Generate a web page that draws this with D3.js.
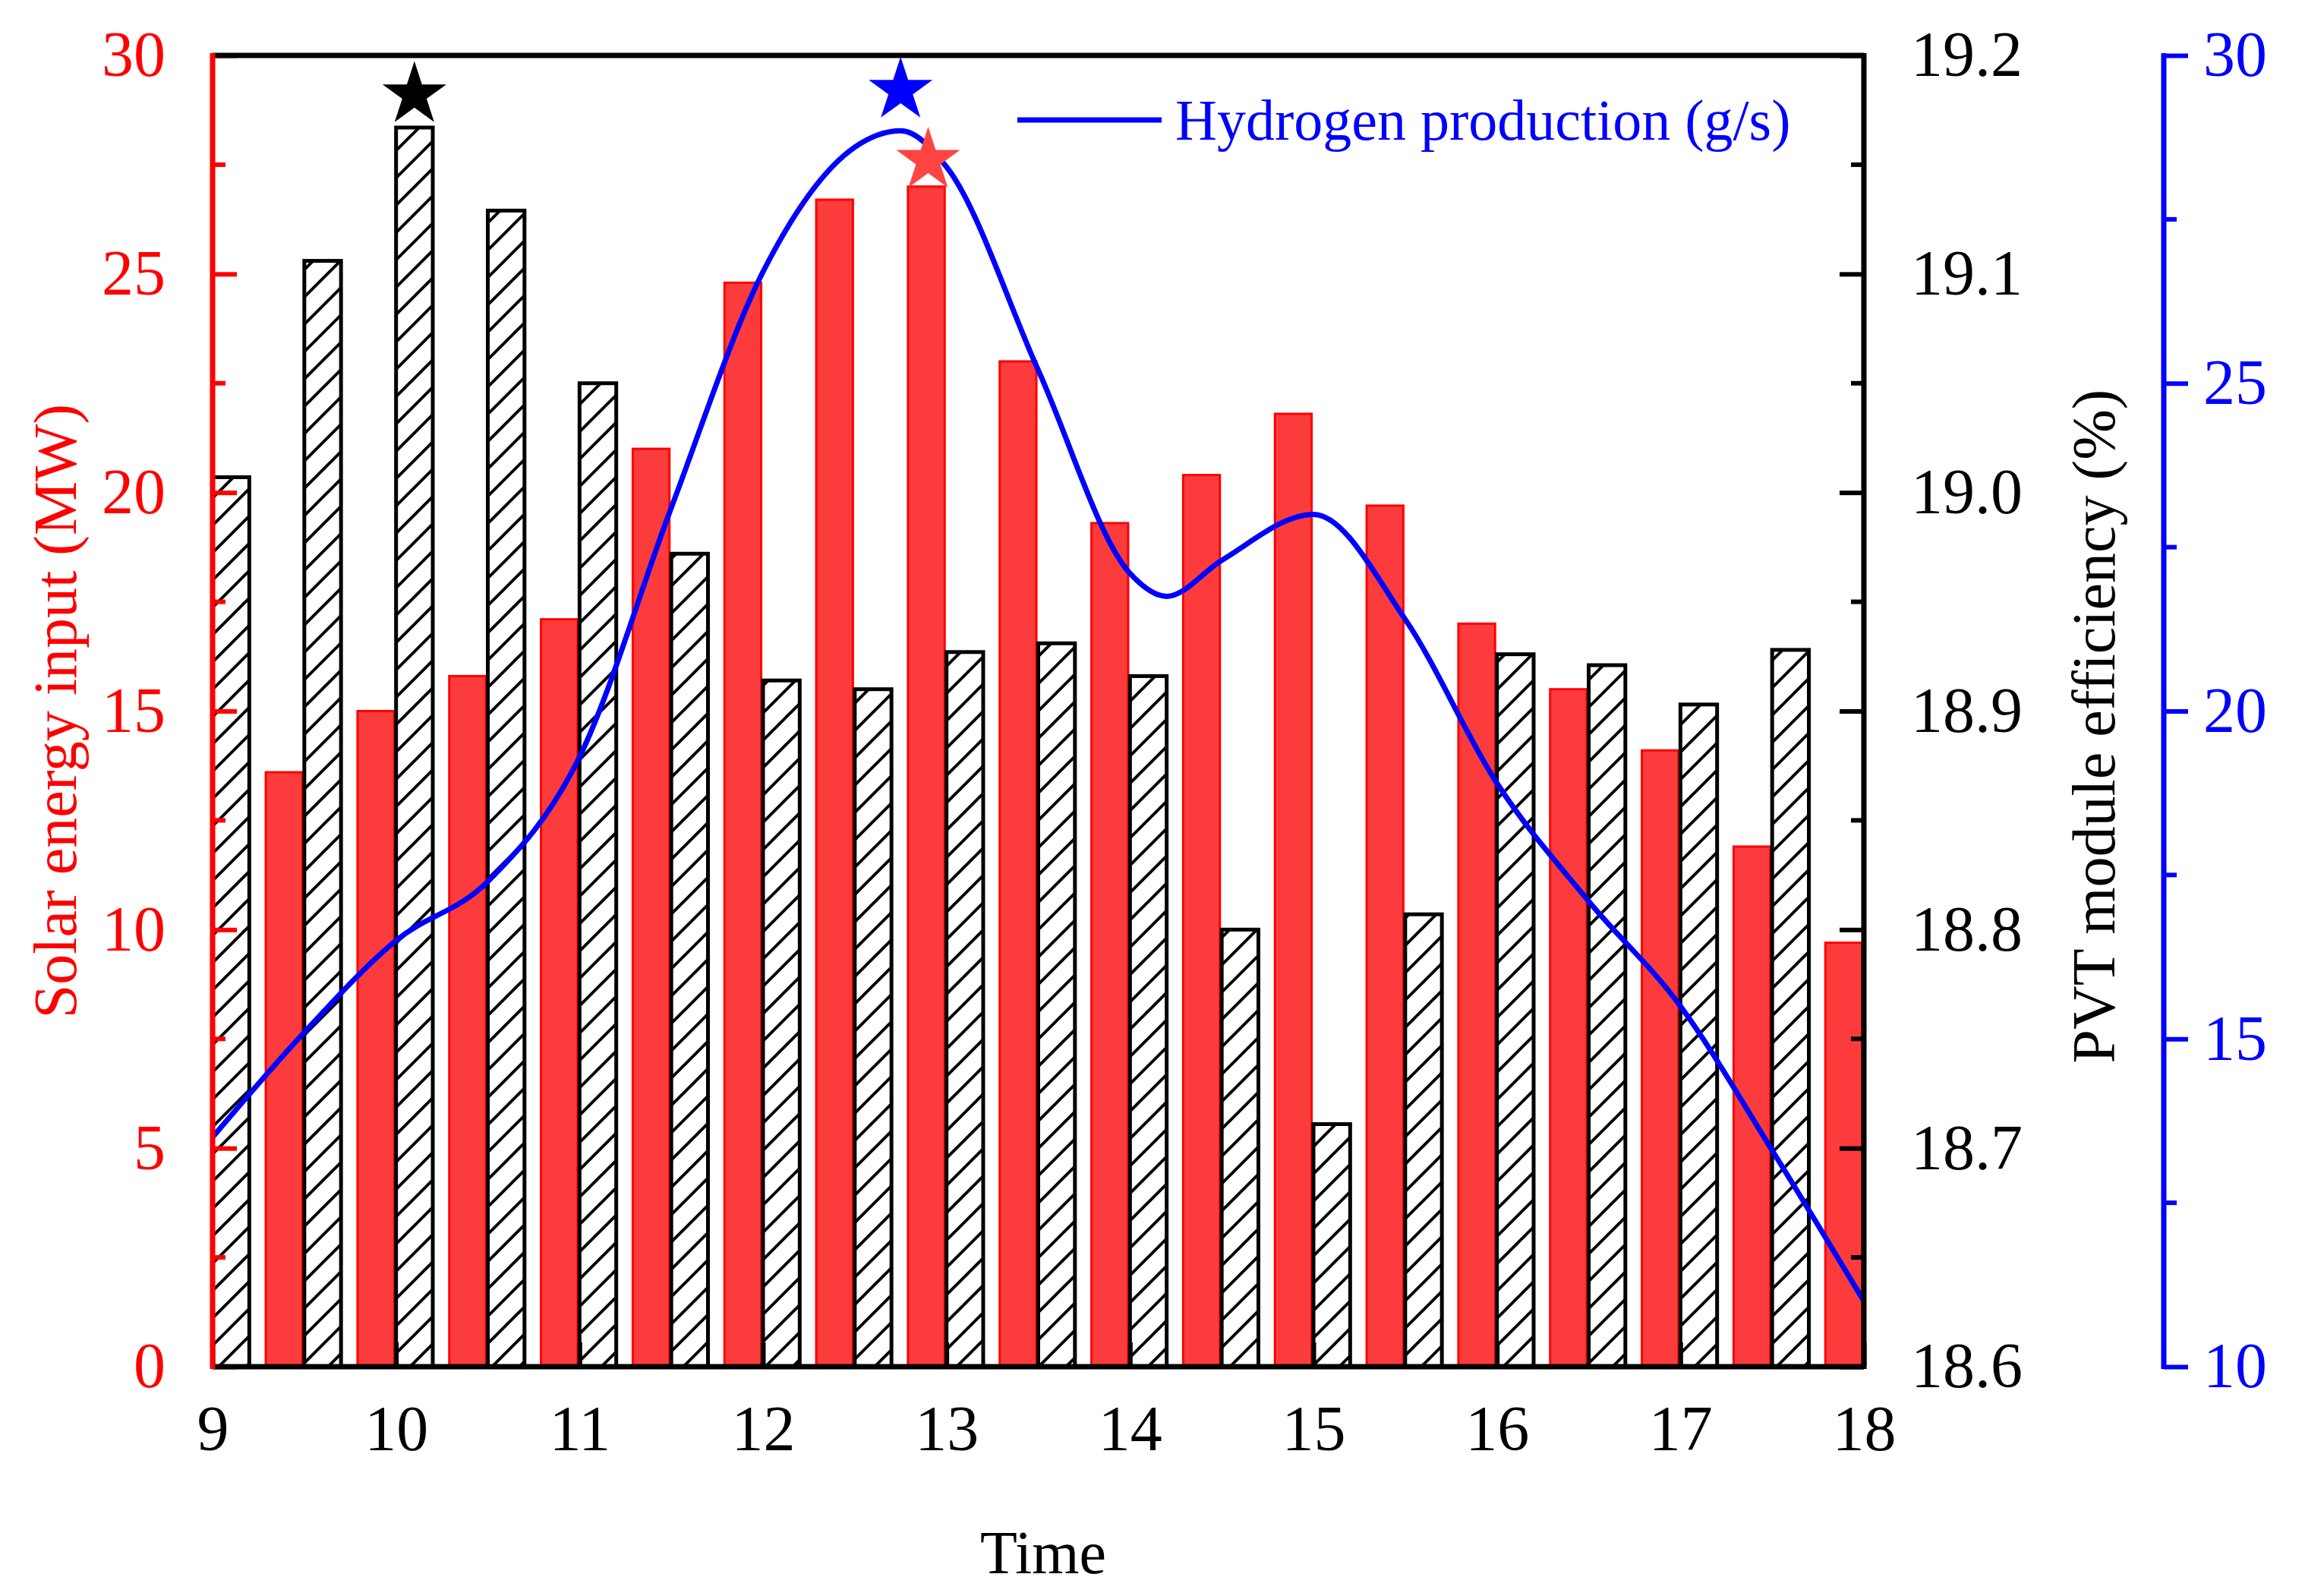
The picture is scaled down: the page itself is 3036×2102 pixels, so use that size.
<!DOCTYPE html>
<html>
<head>
<meta charset="utf-8">
<script src="https://cdn.jsdelivr.net/npm/d3@7"></script>
<style>
  body { margin: 0; background: #fff; }
  text { font-family: "Liberation Serif", "Times New Roman", serif; }
</style>
</head>
<body>
<div id="chart"></div>
<script>
// Solar energy input (MW), red bars
const solarTimes = [9.5, 10, 10.5, 11, 11.5, 12, 12.5, 13, 13.5, 14, 14.5, 15, 15.5, 16, 16.5, 17, 17.5, 18];
const solarValues = [13.6, 15.0, 15.8, 17.1, 21.0, 24.8, 26.7, 27.0, 23.0, 19.3, 20.4, 21.8, 19.7, 17.0, 15.5, 14.1, 11.9, 9.7];
// PVT module efficiency (%), hatched bars
const effTimes = [9, 9.5, 10, 10.5, 11, 11.5, 12, 12.5, 13, 13.5, 14, 14.5, 15, 15.5, 16, 16.5, 17, 17.5];
const effValues = [19.007, 19.106, 19.167, 19.129, 19.050, 18.972, 18.914, 18.910, 18.927, 18.931,
                   18.916, 18.800, 18.711, 18.807, 18.926, 18.921, 18.903, 18.928];
// Hydrogen production (g/s), blue line
const h2Times = [9, 9.5, 10, 10.5, 11, 11.5, 12, 12.5, 12.75, 13, 13.5, 14, 14.2, 14.5, 15, 15.5, 16, 16.5, 17, 17.5, 18];
const h2Values = [13.5, 15.1, 16.5, 17.4, 19.3, 23.1, 26.7, 28.6, 28.85, 28.3, 25.2, 22.1, 21.75, 22.3, 23.0,
                  21.4, 18.9, 17.1, 15.5, 13.3, 11.0];

const W = 3036, H = 2102;
const m = { left: 280, right: 2455, top: 73, bottom: 1800 };
const blueX = 2850;
const barW = 0.2;

const svg = d3.select("#chart").append("svg").attr("width", W).attr("height", H);

const x = d3.scaleLinear().domain([9, 18]).range([m.left, m.right]);
const yL = d3.scaleLinear().domain([0, 30]).range([m.bottom, m.top]);
const yE = d3.scaleLinear().domain([18.6, 19.2]).range([m.bottom, m.top]);
const yH = d3.scaleLinear().domain([10, 30]).range([m.bottom, m.top]);

const defs = svg.append("defs");
defs.append("clipPath").attr("id", "clip").append("rect")
    .attr("x", m.left).attr("y", m.top).attr("width", m.right - m.left).attr("height", m.bottom - m.top);
const pat = defs.append("pattern").attr("id", "hatch").attr("patternUnits", "userSpaceOnUse")
    .attr("width", 36).attr("height", 36);
pat.append("path").attr("d", "M-9,9 L9,-9 M0,36 L36,0 M27,45 L45,27")
    .attr("stroke", "#000").attr("stroke-width", 4);

const g = svg.append("g").attr("clip-path", "url(#clip)");

// red bars
g.selectAll(".solar").data(solarTimes).join("rect")
    .attr("class", "solar")
    .attr("x", (d) => x(d - 0.11 - barW / 2))
    .attr("width", x(9 + barW) - x(9))
    .attr("y", (d, i) => yL(solarValues[i]))
    .attr("height", (d, i) => m.bottom - yL(solarValues[i]))
    .attr("fill", "#fc3c3c").attr("stroke", "#ff0000").attr("stroke-width", 3);

// hatched bars
g.selectAll(".eff").data(effTimes).join("rect")
    .attr("class", "eff")
    .attr("x", (d) => x(d + 0.1 - barW / 2))
    .attr("width", x(9 + barW) - x(9))
    .attr("y", (d, i) => yE(effValues[i]))
    .attr("height", (d, i) => m.bottom - yE(effValues[i]))
    .attr("fill", "url(#hatch)").attr("stroke", "#000").attr("stroke-width", 5);

// hydrogen line
const line = d3.line().curve(d3.curveMonotoneX)
    .x((d) => x(d)).y((d, i) => yH(h2Values[i]));
g.append("path").datum(h2Times).attr("d", line)
    .attr("fill", "none").attr("stroke", "#0000ff").attr("stroke-width", 7);

// stars
const star = d3.symbol().type(d3.symbolStar).size(2200);
const stars = [
  { t: 10.1, v: 29.1, c: "#000" },
  { t: 12.75, v: 29.2, c: "#0000ff" },
  { t: 12.9, v: 27.6, c: "#ff4444" }
];
svg.selectAll(".star").data(stars).join("path")
    .attr("d", star)
    .attr("transform", (d) => `translate(${x(d.t)},${yL(d.v)})`)
    .attr("fill", (d) => d.c);

// axes
function styleAxis(sel, color) {
  sel.select(".domain").remove();
  sel.selectAll("line").attr("stroke", color).attr("stroke-width", 6);
  sel.selectAll("text").attr("fill", color).style("font-size", "84px");
}
function minorTicks(scale, vals, xPos, dir, color) {
  svg.append("g").selectAll("line").data(vals).join("line")
      .attr("x1", xPos).attr("x2", xPos + dir * 17)
      .attr("y1", (d) => scale(d)).attr("y2", (d) => scale(d))
      .attr("stroke", color).attr("stroke-width", 6);
}

const gL = svg.append("g").attr("transform", `translate(${m.left},0)`)
    .call(d3.axisLeft(yL).tickValues([0, 5, 10, 15, 20, 25, 30]).tickSizeInner(-32).tickPadding(62));
styleAxis(gL, "#ff0000");
minorTicks(yL, [2.5, 7.5, 12.5, 17.5, 22.5, 27.5], m.left, 1, "#ff0000");

const gE = svg.append("g").attr("transform", `translate(${m.right},0)`)
    .call(d3.axisRight(yE).tickValues([18.6, 18.7, 18.8, 18.9, 19.0, 19.1, 19.2])
      .tickFormat(d3.format(".1f")).tickSizeInner(-32).tickPadding(62));
styleAxis(gE, "#000");
minorTicks(yE, [18.65, 18.75, 18.85, 18.95, 19.05, 19.15], m.right, -1, "#000");

const gH = svg.append("g").attr("transform", `translate(${blueX},0)`)
    .call(d3.axisRight(yH).tickValues([10, 15, 20, 25, 30]).tickSizeInner(32).tickPadding(20));
styleAxis(gH, "#0000ff");
minorTicks(yH, [12.5, 17.5, 22.5, 27.5], blueX, 1, "#0000ff");

const gB = svg.append("g").attr("transform", `translate(0,${m.bottom})`)
    .call(d3.axisBottom(x).tickValues(d3.range(9, 19)).tickSizeInner(-32).tickPadding(50));
styleAxis(gB, "#000");

// axis lines
svg.append("line").attr("x1", m.left).attr("x2", m.right).attr("y1", m.top).attr("y2", m.top)
    .attr("stroke", "#000").attr("stroke-width", 7);
svg.append("line").attr("x1", m.left).attr("x2", m.right).attr("y1", m.bottom).attr("y2", m.bottom)
    .attr("stroke", "#000").attr("stroke-width", 7);
svg.append("line").attr("x1", m.left).attr("x2", m.left).attr("y1", m.top - 3).attr("y2", m.bottom + 3)
    .attr("stroke", "#ff0000").attr("stroke-width", 7);
svg.append("line").attr("x1", m.right).attr("x2", m.right).attr("y1", m.top - 3).attr("y2", m.bottom + 3)
    .attr("stroke", "#000").attr("stroke-width", 7);
svg.append("line").attr("x1", blueX).attr("x2", blueX).attr("y1", m.top - 3).attr("y2", m.bottom + 3)
    .attr("stroke", "#0000ff").attr("stroke-width", 7);

// titles
svg.append("text").attr("transform", `translate(100,${(m.top + m.bottom) / 2}) rotate(-90)`)
    .attr("text-anchor", "middle").attr("fill", "#ff0000").style("font-size", "80px")
    .text("Solar energy input (MW)");
svg.append("text").attr("transform", `translate(2785,${(m.top + m.bottom) / 2 + 20}) rotate(-90)`)
    .attr("text-anchor", "middle").attr("fill", "#000").style("font-size", "80px")
    .text("PVT module efficiency (%)");
svg.append("text").attr("x", 1374).attr("y", 2072).attr("text-anchor", "middle")
    .style("font-size", "80px").text("Time");

// legend
svg.append("line").attr("x1", 1340).attr("x2", 1530).attr("y1", 158).attr("y2", 158)
    .attr("stroke", "#0000ff").attr("stroke-width", 7);
svg.append("text").attr("x", 1548).attr("y", 184).attr("fill", "#0000ff")
    .style("font-size", "76px").text("Hydrogen production (g/s)");
</script>
</body>
</html>
